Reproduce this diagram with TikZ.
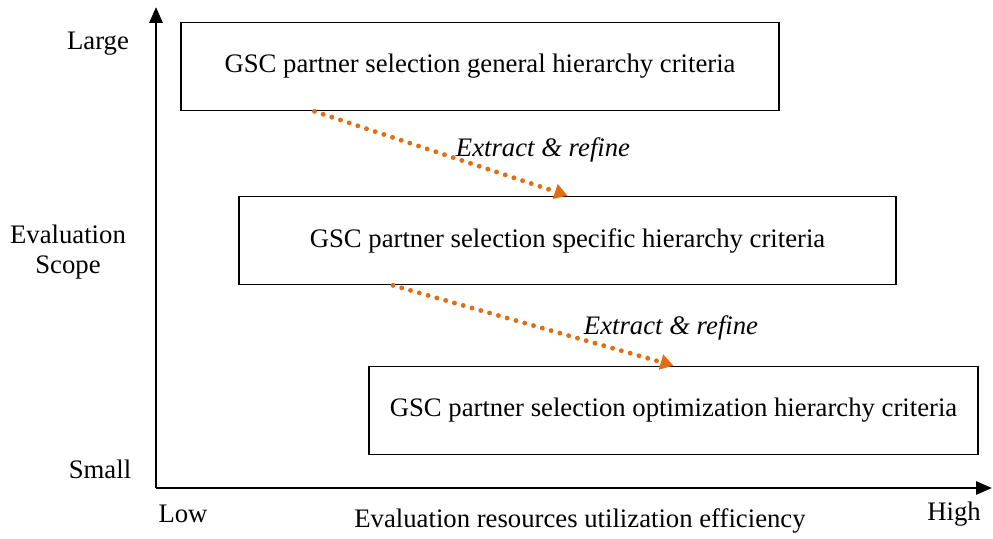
\documentclass[tikz,border=0pt]{standalone}
\usepackage{fontspec}
\setmainfont{Liberation Serif}
\usetikzlibrary{positioning,arrows.meta,calc}
\definecolor{RefineOrange}{RGB}{226,110,20}

\begin{document}
\begin{tikzpicture}[font=\fontsize{15.2}{17.5}\selectfont, every node/.style={align=center}]
\tikzset{
  crit/.style={draw, line width=1pt, minimum height=1.76cm, inner sep=0pt},
  axis/.style={line width=1.7pt, -{Triangle[length=3.2mm,width=2.6mm]}},
  refine/.style={RefineOrange, line width=2.8pt, line cap=round,
    dash pattern=on 0pt off 5.2pt, -{Triangle[length=2.6mm,width=3mm]}},
  refinelabel/.style={font=\fontsize{15.2}{17.5}\selectfont\itshape}
}
  \useasboundingbox (0,0) rectangle (19.86,10.76);

  % axes
  \coordinate (origin) at (3.12,1.0);
  \coordinate (ytip) at (3.12,10.62);
  \coordinate (xtip) at (19.84,1.0);
  \draw[axis] (origin) -- (ytip);
  \draw[axis] (origin) -- (xtip);

  \node (large) at (1.96,9.88) {Large};
  \node (small) at (2.0,1.38) {Small};
  \node[align=center] (scope) at (1.36,5.72) {Evaluation\\Scope};
  \node (low) at (3.66,0.48) {Low};
  \node (high) at (19.08,0.48) {High};
  \node (effic) at (11.6,0.34) {Evaluation resources utilization efficiency};

  % criteria boxes
  \node[crit, minimum width=11.96cm] (general) at (9.6,9.43)
    {GSC partner selection general hierarchy criteria};
  \node[crit, minimum width=13.14cm] (specific) at (11.35,5.95)
    {GSC partner selection specific hierarchy criteria};
  \node[crit, minimum width=12.18cm] (optim) at (13.47,2.55)
    {GSC partner selection optimization hierarchy criteria};

  % extract & refine arrows
  \coordinate (gstart) at ($(general.south west)!0.224!(general.south east)$);
  \coordinate (sstart) at ($(specific.south west)!0.235!(specific.south east)$);
  \draw[refine] (gstart) -- (specific.north);
  \draw[refine] (sstart) -- (optim.north);
  \node[refinelabel] (ref1) at (10.86,7.76) {Extract \& refine};
  \node[refinelabel] (ref2) at (13.42,4.2) {Extract \& refine};
\end{tikzpicture}
\end{document}
